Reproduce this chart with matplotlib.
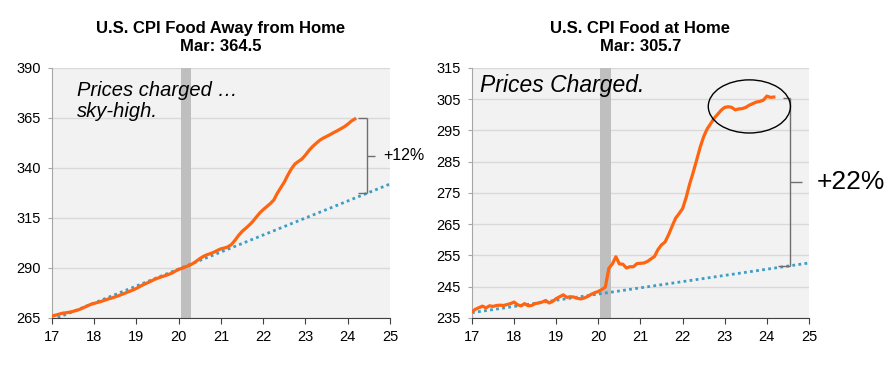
#
# plot.py
# CPI food away from home vs food at home
#

import numpy as np
import matplotlib
matplotlib.use("Agg")
import matplotlib.pyplot as plt
from matplotlib.patches import Ellipse

plt.rcParams["font.family"] = ["Liberation Sans", "DejaVu Sans"]

# monthly values, Jan 2017 .. Mar 2024 (x axis is year - 2000)
away_values = [
    266.0, 266.4, 266.9, 267.4, 267.6, 267.9, 268.3, 268.8, 269.4, 270.2, 271.0, 271.8,
    272.3, 272.8, 273.3, 273.9, 274.5, 275.0, 275.6, 276.2, 276.9, 277.6, 278.3, 279.0,
    279.8, 280.8, 281.7, 282.5, 283.3, 284.2, 284.9, 285.5, 286.1, 286.7, 287.4, 288.4,
    289.3, 289.9, 290.6, 291.3, 292.2, 293.4, 294.7, 295.8, 296.6, 297.2, 297.9, 298.8,
    299.6, 300.0, 300.6, 301.8, 303.9, 306.3, 308.3, 309.8, 311.4, 313.2, 315.4, 317.5,
    319.2, 320.7, 322.2, 324.0, 327.4, 330.2, 333.0, 336.5, 339.6, 342.0, 343.3, 344.5,
    346.5, 348.8, 350.7, 352.3, 353.8, 354.9, 355.8, 356.7, 357.7, 358.6, 359.6, 360.6,
    361.9, 363.4, 364.5,
]

home_values = [
    237.0, 237.8, 238.3, 238.8, 238.2, 238.9, 238.7, 239.0, 239.1, 239.0, 239.3, 239.6,
    240.1, 239.2, 238.9, 239.6, 238.9, 239.0, 239.6, 239.8, 240.1, 240.6, 239.8, 240.3,
    241.2, 241.8, 242.4, 241.6, 241.8, 241.7, 241.3, 241.1, 241.4, 241.9, 242.6, 243.1,
    243.5, 244.1, 244.9, 250.9, 252.3, 254.6, 252.3, 252.2, 251.0, 251.4, 251.4, 252.4,
    252.5, 252.6, 253.1, 253.9, 254.7, 256.9, 258.4, 259.3, 261.6, 264.3, 266.9, 268.4,
    270.0, 273.5, 277.8, 281.5, 285.5, 289.6, 293.0, 295.5, 297.2, 298.9, 300.2, 301.5,
    302.4, 302.6, 302.4, 301.6, 301.9, 302.0, 302.4, 303.1, 303.6, 304.1, 304.3, 304.7,
    306.0, 305.6, 305.7,
]

# pre-covid trend lines (value at start / end of axis)
trend_x = [17.0, 25.0]
away_trend = [264.0, 332.0]
home_trend = [236.7, 252.6]

recession = (20.05, 20.3)

away_ticks = [265, 290, 315, 340, 365, 390]
home_ticks = [235, 245, 255, 265, 275, 285, 295, 305, 315]
year_ticks = [17, 18, 19, 20, 21, 22, 23, 24, 25]

ORANGE = "#ff6410"
BLUE = "#3d9dc6"
BRACKET = "#6e6e6e"


def month_axis(n):
    return [17 + i / 12.0 for i in range(n)]


def style_axes(ax, yticks, title):
    ax.set_facecolor("#f2f2f2")
    ax.set_xlim(17, 25)
    ax.set_ylim(yticks[0], yticks[-1])
    ax.set_xticks(year_ticks)
    ax.set_yticks(yticks)
    ax.grid(axis="y", color="#d9d9d9", lw=1)
    ax.set_axisbelow(True)
    for side in ["top", "right"]:
        ax.spines[side].set_visible(False)
    ax.spines["left"].set_color("#a6a6a6")
    ax.spines["bottom"].set_color("#404040")
    ax.tick_params(axis="x", length=4, color="#404040", labelsize=10.5, pad=5)
    ax.tick_params(axis="y", length=3, color="#a6a6a6", labelsize=10.5, pad=5)
    ax.set_title(title, fontsize=12, fontweight="bold", pad=12, linespacing=1.25)


def draw_bracket(ax, x, top, bottom, left_top, left_bottom, notch):
    mid = (top + bottom) / 2.0
    kw = dict(color=BRACKET, lw=1, clip_on=False, solid_capstyle="butt")
    ax.plot([left_top, x], [top, top], **kw)
    ax.plot([x, x], [top, bottom], **kw)
    ax.plot([left_bottom, x], [bottom, bottom], **kw)
    ax.plot([x, notch], [mid, mid], **kw)
    return mid


fig = plt.figure(figsize=(8.92, 3.73), dpi=100)
ax1 = fig.add_axes([0.0583, 0.1475, 0.3789, 0.6702])
ax2 = fig.add_axes([0.5291, 0.1475, 0.3778, 0.6702])

#Left - Food Away from Home
style_axes(ax1, away_ticks, "U.S. CPI Food Away from Home\nMar: 364.5")
ax1.axvspan(*recession, color="#bfbfbf", lw=0, zorder=1)
ax1.plot(trend_x, away_trend, color=BLUE, lw=2, ls=(0, (1, 1.2)), zorder=2)
ax1.plot(month_axis(len(away_values)), away_values, color=ORANGE, lw=2.3, zorder=3)
ax1.text(17.6, 383.5, "Prices charged \u2026\nsky-high.", fontsize=14.5,
         style="italic", va="top", ha="left", linespacing=1.15)
bx = 24.45
mid = draw_bracket(ax1, bx, away_values[-1] + 0.5, np.interp(bx, trend_x, away_trend),
                   24.25, 24.25, 24.65)
ax1.text(24.83, mid, "+12%", fontsize=11.5, va="center", ha="left", clip_on=False)

#Right - Food at Home
style_axes(ax2, home_ticks, "U.S. CPI Food at Home\nMar: 305.7")
ax2.axvspan(*recession, color="#bfbfbf", lw=0, zorder=1)
ax2.plot(trend_x, home_trend, color=BLUE, lw=2, ls=(0, (1, 1.2)), zorder=2)
ax2.plot(month_axis(len(home_values)), home_values, color=ORANGE, lw=2.3, zorder=3)
ax2.text(17.19, 313, "Prices Charged.", fontsize=16.5, style="italic",
         va="top", ha="left")
ax2.add_patch(Ellipse((23.585, 302.7), 1.95, 17, fill=False, ec="black", lw=1,
                      zorder=4, clip_on=False))
bx = 24.55
mid = draw_bracket(ax2, bx, home_values[-1] - 0.4, np.interp(bx, trend_x, home_trend),
                   24.38, 24.26, 24.83)
ax2.text(25.19, mid, "+22%", fontsize=19, va="center", ha="left", clip_on=False)

fig.savefig("out.png", dpi=100)
